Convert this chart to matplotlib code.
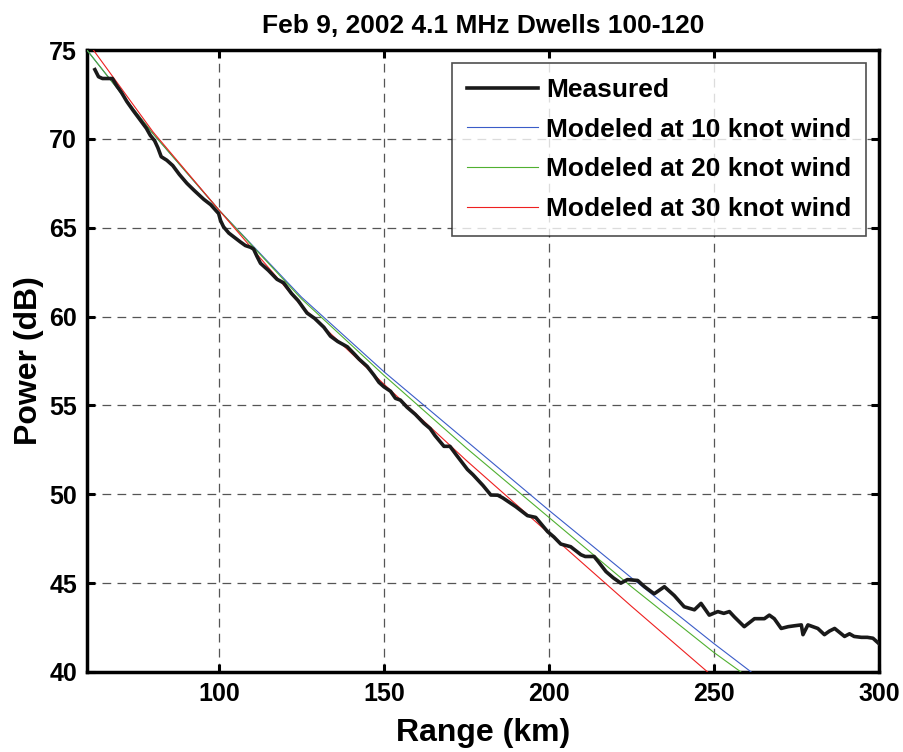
import matplotlib.pyplot as plt
import numpy as np

# measured power vs range
meas_x = [62.4, 63.5, 64.7, 67.7, 69, 70.5, 72.1, 74, 76, 78, 79.2, 80.5, 81.5, 82.5, 84.2, 86, 88, 90.3,
          92.5, 95.4, 97.5, 99.9, 100.5, 101.4, 103, 106.5, 108, 109.6, 110.5, 111.5, 112.6, 115, 117.6,
          119.6, 122, 124, 126.7, 129, 131.8, 133.8, 136, 138.9, 141, 142.5, 144.9, 147, 148.5, 150, 152,
          153.5, 155, 157, 159.5, 162.1, 164, 165.5, 168.2, 170, 172, 175.3, 177, 180, 182.4, 184.5, 186,
          188.4, 190, 193.5, 196, 199.6, 201.5, 203.6, 206.6, 209.7, 211, 213.7, 215, 217.3, 219.5, 221.8,
          223.8, 226.9, 229, 231.9, 235, 238, 241, 244.1, 246.1, 248.6, 251.2, 253, 254.7, 256.2, 259.2,
          262.3, 265.3, 266.8, 268.3, 270.4, 272.5, 274.4, 276.5, 277, 278.5, 281.5, 283.5, 285, 286.6,
          289.6, 291.1, 292.5, 294.7, 296.5, 298.2, 300]
meas_y = [73.9, 73.5, 73.4, 73.4, 73.0, 72.6, 72.1, 71.6, 71.1, 70.6, 70.2, 69.9, 69.5, 69.0, 68.8, 68.5, 68.0, 67.5,
          67.1, 66.6, 66.3, 65.8, 65.4, 65.05, 64.7, 64.2, 64.0, 63.9, 63.8, 63.4, 63.0, 62.6, 62.1,
          61.9, 61.3, 60.9, 60.2, 59.9, 59.4, 58.9, 58.6, 58.3, 57.9, 57.6, 57.2, 56.7, 56.3, 56.05, 55.8,
          55.4, 55.3, 54.9, 54.5, 54.0, 53.7, 53.3, 52.7, 52.7, 52.2, 51.4, 51.1, 50.5, 49.96, 49.95, 49.8,
          49.5, 49.3, 48.8, 48.7, 47.9, 47.6, 47.2, 47.05, 46.6, 46.5, 46.5, 46.2, 45.65, 45.3, 45.0,
          45.2, 45.15, 44.8, 44.4, 44.8, 44.3, 43.67, 43.5, 43.86, 43.2, 43.4, 43.3, 43.4, 43.1, 42.55,
          43.0, 43.0, 43.2, 43.0, 42.45, 42.55, 42.6, 42.65, 42.1, 42.65, 42.45, 42.1, 42.3, 42.45,
          42.0, 42.15, 42.0, 41.95, 41.95, 41.9, 41.6]

# modeled curves
m10_x = [60, 80, 100, 125, 150, 175, 200, 225, 250, 261.3]
m10_y = [75.0, 70.3, 66.0, 61.1, 56.9, 53.0, 49.1, 45.3, 41.6, 40.0]
m20_x = [60, 80, 100, 125, 150, 175, 200, 225, 250, 258.2]
m20_y = [75.0, 70.3, 66.0, 61.0, 56.7, 52.6, 48.7, 44.8, 41.1, 40.0]
m30_x = [60, 80, 100, 125, 150, 175, 200, 225, 248.1]
m30_y = [75.5, 70.4, 66.0, 60.6, 56.2, 51.9, 47.8, 43.7, 40.0]

plt.rcParams['font.family'] = ['Liberation Sans', 'DejaVu Sans']
plt.rcParams['font.weight'] = 'bold'

fig = plt.figure(figsize=(9.04, 7.52), dpi=100)
ax = fig.add_axes([0.0962, 0.1064, 0.876, 0.827])

ax.plot(meas_x, meas_y, color='#1a1a1a', lw=2.6, label='Measured', zorder=5)
ax.plot(m10_x, m10_y, color='#3a5cc8', lw=0.8, label='Modeled at 10 knot wind', zorder=4)
ax.plot(m20_x, m20_y, color='#50b030', lw=0.8, label='Modeled at 20 knot wind', zorder=4)
ax.plot(m30_x, m30_y, color='#ee2020', lw=0.8, label='Modeled at 30 knot wind', zorder=4)

ax.set_xlim(60, 300)
ax.set_ylim(40, 75)
ax.set_xticks([100, 150, 200, 250, 300])
ax.set_yticks([40, 45, 50, 55, 60, 65, 70, 75])
ax.grid(True, color='#555555', linestyle=(0, (7, 5)), lw=0.9)
ax.tick_params(direction='in', length=6, width=2.2, top=True, right=True, labelsize=18, pad=7)
for s in ax.spines.values():
    s.set_linewidth(2.5)

ax.set_title('Feb 9, 2002 4.1 MHz Dwells 100-120', fontsize=19, fontweight='bold', pad=12)
ax.set_xlabel('Range (km)', fontsize=23, fontweight='bold', labelpad=9)
ax.set_ylabel('Power (dB)', fontsize=23, fontweight='bold', labelpad=4)

leg = ax.legend(loc='upper right', fontsize=19, frameon=True, fancybox=False, edgecolor='#222222',
                borderaxespad=0.5, handlelength=2.7, handletextpad=0.3, labelspacing=0.6,
                borderpad=0.55)
leg.get_frame().set_linewidth(1.2)

plt.savefig('out.png', dpi=100)
